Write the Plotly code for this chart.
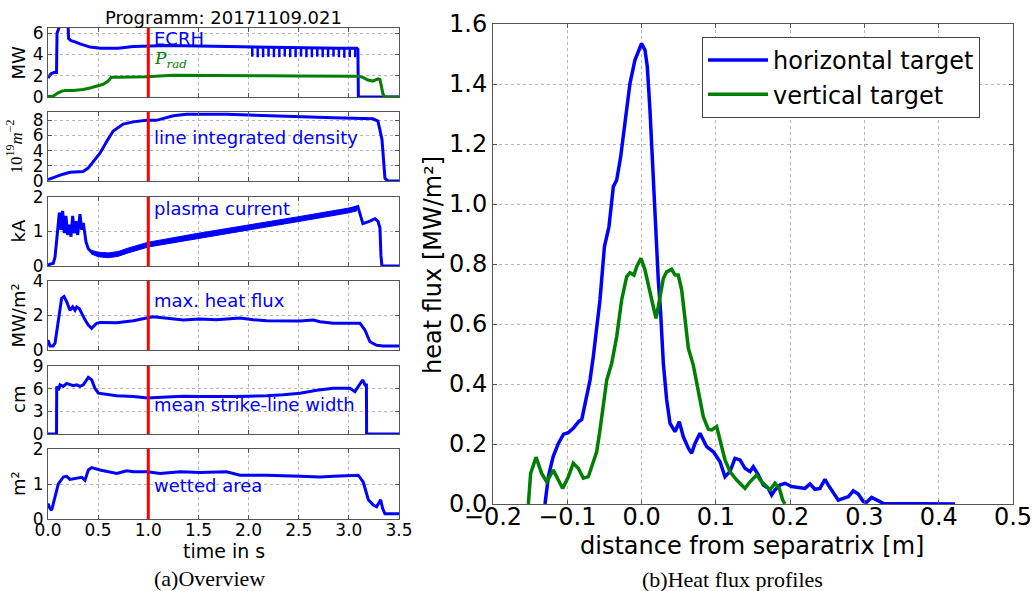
import plotly.graph_objects as go

# ---------------- data: (a) overview ----------------
profile_time = 1.0

ecrh_t = [0.0, 0.03, 0.06, 0.085, 0.09, 0.10, 0.12, 0.20, 0.205, 0.23, 0.27, 0.32, 0.42, 0.52, 0.70, 0.85, 0.98,
          1.2, 1.5, 1.8, 2.0, 2.3, 2.6, 2.9, 3.08, 3.09, 3.095, 3.5]
ecrh_v = [1.8, 2.2, 2.3, 2.3, 6.0, 6.4, 6.8, 6.8, 5.5, 5.3, 5.2, 5.0, 4.7, 4.6, 4.6, 4.75, 4.8,
          4.85, 4.8, 4.75, 4.7, 4.65, 4.65, 4.6, 4.6, 4.5, 0.0, 0.0]
ecrh_dip_t = [2.037, 2.091, 2.145, 2.199, 2.253, 2.307, 2.361, 2.415, 2.469, 2.523,
              2.577, 2.631, 2.685, 2.739, 2.793, 2.847, 2.901, 2.955, 3.009, 3.063]
ecrh_dip_top = [4.7, 4.7, 4.7, 4.7, 4.7, 4.7, 4.65, 4.65, 4.65, 4.65,
                4.65, 4.65, 4.65, 4.6, 4.6, 4.6, 4.6, 4.6, 4.6, 4.6]
ecrh_dip_min = [3.8, 3.75, 3.75, 3.8, 3.75, 3.75, 3.8, 3.75, 3.75, 3.8,
                3.75, 3.75, 3.8, 3.75, 3.75, 3.8, 3.75, 3.7, 3.75, 3.75]

prad_t = [0.0, 0.05, 0.07, 0.10, 0.14, 0.17, 0.25, 0.35, 0.42, 0.485, 0.55, 0.60, 0.63, 0.70, 0.85, 0.98,
          1.25, 1.5, 1.8, 2.18, 2.5, 2.85, 3.09, 3.14, 3.19, 3.24, 3.29, 3.31, 3.34, 3.36, 3.5]
prad_v = [0.05, 0.08, 0.2, 0.4, 0.55, 0.62, 0.62, 0.7, 0.85, 1.05, 1.2, 1.5, 1.85, 1.85, 1.87, 1.9,
          2.05, 2.05, 2.02, 2.0, 1.97, 1.95, 1.95, 1.85, 1.6, 1.5, 1.7, 1.65, 0.3, 0.0, 0.0]

dens_t = [0.0, 0.05, 0.15, 0.22, 0.35, 0.40, 0.45, 0.52, 0.585, 0.65, 0.75, 0.85, 0.98, 1.08, 1.25, 1.38,
          1.78, 2.18, 2.85, 3.24, 3.29, 3.33, 3.36, 3.39, 3.5]
dens_v = [0.2, 0.45, 0.9, 1.15, 1.25, 1.7, 2.6, 3.7, 5.2, 6.6, 7.5, 7.8, 8.0, 8.0, 8.6, 8.8,
          8.8, 8.6, 8.35, 8.2, 7.9, 5.5, 0.35, 0.0, 0.0]

cur_t = [0.0, 0.016, 0.053, 0.07, 0.093, 0.113, 0.13, 0.146, 0.163, 0.179, 0.196, 0.213, 0.229, 0.246,
         0.262, 0.279, 0.296, 0.319, 0.336, 0.352, 0.379, 0.402, 0.435, 0.5, 0.6, 0.7, 0.8, 1.0, 1.5,
         2.0, 2.5, 3.0, 3.04, 3.09, 3.14, 3.21, 3.26, 3.29, 3.31, 3.32, 3.33, 3.5]
cur_v = [0.0, 0.05, 0.08, 0.26, 0.94, 1.55, 1.05, 1.6, 0.95, 1.45, 0.9, 1.2, 0.85, 1.45,
         0.95, 1.3, 0.9, 1.5, 1.05, 1.25, 0.7, 0.5, 0.4, 0.33, 0.31, 0.35, 0.45, 0.62, 0.88,
         1.11, 1.36, 1.6, 1.64, 1.72, 1.23, 1.3, 1.37, 1.3, 1.1, 0.3, 0.0, 0.0]
cur_band_t = [0.43, 0.5, 0.6, 0.7, 0.8, 1.0, 1.5, 2.0, 2.5, 3.0, 3.08]
cur_band_lo = [0.35, 0.27, 0.24, 0.28, 0.38, 0.55, 0.81, 1.04, 1.29, 1.54, 1.6]
cur_band_hi = [0.46, 0.4, 0.38, 0.42, 0.52, 0.69, 0.95, 1.18, 1.43, 1.68, 1.74]

hf_t = [0.0, 0.02, 0.05, 0.07, 0.103, 0.136, 0.16, 0.186, 0.219, 0.246, 0.269, 0.286, 0.312, 0.336,
        0.369, 0.402, 0.435, 0.485, 0.518, 0.685, 0.851, 0.994, 1.05, 1.349, 1.515, 1.681, 1.848,
        1.914, 2.047, 2.18, 2.513, 2.646, 2.712, 2.845, 3.111, 3.16, 3.21, 3.277, 3.343, 3.5]
hf_v = [0.58, 0.23, 0.23, 0.4, 1.7, 3.0, 3.1, 2.8, 2.3, 2.5, 2.3, 2.5, 2.4, 2.1,
        1.75, 1.45, 1.26, 1.55, 1.6, 1.58, 1.7, 1.87, 1.93, 1.74, 1.8, 1.76, 1.84,
        1.85, 1.75, 1.7, 1.68, 1.74, 1.64, 1.55, 1.55, 1.16, 0.48, 0.27, 0.23, 0.23]

sw_t = [0.0, 0.085, 0.087, 0.103, 0.12, 0.153, 0.186, 0.219, 0.252, 0.286, 0.319, 0.352, 0.379,
        0.402, 0.435, 0.468, 0.502, 0.585, 0.685, 0.851, 0.994, 1.183, 1.35, 1.515, 1.7, 1.848,
        2.0, 2.18, 2.346, 2.513, 2.679, 2.845, 3.011, 3.061, 3.094, 3.138, 3.161, 3.175, 3.177, 3.5]
sw_v = [0.0, 0.0, 6.3, 5.8, 6.5, 6.3, 6.7, 6.5, 6.4, 6.5, 6.3, 6.5, 7.1,
        7.5, 7.2, 6.05, 5.4, 5.2, 5.05, 4.95, 4.75, 4.9, 5.0, 4.95, 4.9, 4.95,
        5.0, 5.05, 5.2, 5.4, 5.8, 6.05, 6.05, 5.6, 6.3, 7.15, 6.5, 6.5, 0.0, 0.0]

wa_t = [0.0, 0.02, 0.036, 0.07, 0.103, 0.153, 0.186, 0.219, 0.286, 0.336, 0.369, 0.402, 0.435,
        0.518, 0.685, 0.784, 0.85, 0.994, 1.117, 1.316, 1.515, 1.781, 1.914, 2.18, 2.513, 2.712,
        2.845, 3.094, 3.144, 3.194, 3.244, 3.277, 3.317, 3.337, 3.36, 3.5]
wa_v = [0.44, 0.3, 0.25, 0.63, 1.0, 1.2, 1.22, 1.13, 1.16, 1.19, 1.11, 1.4, 1.47,
        1.4, 1.3, 1.38, 1.35, 1.35, 1.3, 1.35, 1.33, 1.35, 1.25, 1.25, 1.22, 1.2,
        1.22, 1.25, 1.05, 0.55, 0.4, 0.35, 0.55, 0.3, 0.15, 0.15]

# ---------------- data: (b) heat flux profiles ----------------
h_d = [-0.130, -0.1255, -0.119, -0.112, -0.105, -0.0986, -0.092, -0.085, -0.0805, -0.0762, -0.0694,
       -0.065, -0.0604, -0.056, -0.050, -0.0439, -0.038, -0.0335, -0.0281, -0.0223, -0.0156, -0.0089,
       -0.0021, 0.0, 0.0046, 0.0077, 0.0113, 0.015, 0.018, 0.0212, 0.0225, 0.0257, 0.0293, 0.0338,
       0.0383, 0.045, 0.0508, 0.0562, 0.063, 0.0674, 0.0719, 0.0786, 0.0876, 0.0966, 0.1056, 0.1123,
       0.119, 0.1258, 0.1325, 0.1392, 0.146, 0.1504, 0.1571, 0.1639, 0.1706, 0.1751, 0.1796, 0.1863,
       0.193, 0.202, 0.211, 0.22, 0.2267, 0.2334, 0.2401, 0.2469, 0.2514, 0.258, 0.2648, 0.2715,
       0.2783, 0.285, 0.2917, 0.2985, 0.303, 0.3097, 0.3165, 0.3254, 0.4219]
h_q = [0.0, 0.091, 0.158, 0.202, 0.233, 0.238, 0.252, 0.274, 0.282, 0.336, 0.413,
       0.491, 0.591, 0.68, 0.858, 0.924, 1.058, 1.08, 1.158, 1.28, 1.402, 1.48,
       1.524, 1.535, 1.513, 1.458, 1.313, 1.124, 0.958, 0.791, 0.747, 0.636, 0.469, 0.347,
       0.269, 0.241, 0.274, 0.224, 0.186, 0.169, 0.202, 0.236, 0.191, 0.174, 0.141, 0.091,
       0.108, 0.152, 0.147, 0.119, 0.108, 0.124, 0.097, 0.063, 0.052, 0.03, 0.047, 0.063,
       0.069, 0.058, 0.055, 0.052, 0.067, 0.049, 0.052, 0.082, 0.063, 0.036, 0.013, 0.019,
       0.024, 0.044, 0.033, 0.008, 0.006, 0.022, 0.013, 0.002, 0.0]

v_d = [-0.1524, -0.1493, -0.1421, -0.1345, -0.1277, -0.1188, -0.1121, -0.1062, -0.0986, -0.0919,
       -0.0852, -0.0784, -0.0717, -0.0672, -0.0604, -0.056, -0.0515, -0.0469, -0.0402, -0.0335,
       -0.0268, -0.0223, -0.02, -0.0156, -0.0102, -0.0066, -0.0008, 0.0046, 0.0077, 0.0113, 0.0158,
       0.0194, 0.0225, 0.0257, 0.0293, 0.0338, 0.0405, 0.045, 0.0494, 0.054, 0.0562, 0.0584, 0.063,
       0.0696, 0.0764, 0.0831, 0.0898, 0.0944, 0.1011, 0.1056, 0.1123, 0.119, 0.128, 0.1392, 0.146,
       0.155, 0.1617, 0.1684, 0.1729, 0.1796, 0.1854, 0.19, 0.193]
v_q = [0.0, 0.102, 0.156, 0.102, 0.074, 0.113, 0.08, 0.052, 0.091, 0.136,
       0.119, 0.086, 0.091, 0.124, 0.174, 0.247, 0.324, 0.413, 0.469, 0.558,
       0.68, 0.736, 0.758, 0.771, 0.763, 0.791, 0.819, 0.78, 0.747, 0.702, 0.658,
       0.619, 0.658, 0.702, 0.752, 0.774, 0.782, 0.763, 0.763, 0.713, 0.669, 0.602, 0.519,
       0.463, 0.38, 0.291, 0.249, 0.247, 0.258, 0.213, 0.147, 0.108, 0.08, 0.052, 0.074,
       0.097, 0.074, 0.058, 0.047, 0.069, 0.052, 0.013, 0.0]

panel_ranges = [[0, 6.5], [0, 9.1], [0, 2], [0, 4], [0, 9], [0, 2]]
panel_ticks = [[0, 2, 4, 6], [0, 2, 4, 6, 8], [0, 1, 2], [0, 2, 4], [0, 3, 6, 9], [0, 1, 2]]
panel_units = ["MW", "10<sup>19</sup><i>m</i><sup>−2</sup>", "kA", "MW/m²", "cm", "m²"]
panel_labels = ["ECRH", "line integrated density", "plasma current", "max. heat flux",
                "mean strike-line width", "wetted area"]
time_ticks = [0.0, 0.5, 1.0, 1.5, 2.0, 2.5, 3.0, 3.5]
dist_ticks = [-0.2, -0.1, 0.0, 0.1, 0.2, 0.3, 0.4, 0.5]
flux_ticks = [0.0, 0.2, 0.4, 0.6, 0.8, 1.0, 1.2, 1.4, 1.6]

# ---------------- styling ----------------
BLUE = "#0000ff"
GREEN = "#008000"
RED = "#ff0000"
SANS = "DejaVu Sans"
SERIF = "Liberation Serif"
W, H = 1032, 591

left_x = [48 / W, 399 / W]
left_y = [(28, 97), (112, 181), (197, 266), (281, 350), (366, 434), (449, 519)]
right_x = [493 / W, 1013 / W]
right_y = [1 - 504 / H, 1 - 24 / H]


def py(px):
    return 1 - px / H


fig = go.Figure()

axis_common = dict(showline=True, linecolor="#555555", linewidth=1, mirror="ticks",
                   ticks="inside", ticklen=4, tickcolor="#555555", showgrid=True,
                   gridcolor="#b5b5b5", griddash="dot", gridwidth=1, zeroline=False,
                   automargin=False, ticklabeloverflow="allow")

series = [(dens_t, dens_v), (cur_t, cur_v), (hf_t, hf_v), (sw_t, sw_v), (wa_t, wa_v)]

# panel 1: ECRH + Prad
fig.add_trace(go.Scatter(x=ecrh_t, y=ecrh_v, mode="lines", line=dict(color=BLUE, width=3),
                         xaxis="x", yaxis="y", showlegend=False))
dip_x, dip_y = [], []
for t, top, mn in zip(ecrh_dip_t, ecrh_dip_top, ecrh_dip_min):
    dip_x += [t, t, None]
    dip_y += [top, mn, None]
fig.add_trace(go.Scatter(x=dip_x, y=dip_y, mode="lines", line=dict(color=BLUE, width=2.5),
                         xaxis="x", yaxis="y", showlegend=False))
fig.add_trace(go.Scatter(x=prad_t, y=prad_v, mode="lines", line=dict(color=GREEN, width=3),
                         xaxis="x", yaxis="y", showlegend=False))

# plasma current noise band
fig.add_trace(go.Scatter(x=cur_band_t + cur_band_t[::-1], y=cur_band_hi + cur_band_lo[::-1],
                         fill="toself", fillcolor=BLUE, mode="lines", line=dict(color=BLUE, width=1),
                         xaxis="x3", yaxis="y3", showlegend=False, hoverinfo="skip"))

for i, (tx, vy) in enumerate(series, start=2):
    fig.add_trace(go.Scatter(x=tx, y=vy, mode="lines", line=dict(color=BLUE, width=3),
                             xaxis=f"x{i}", yaxis=f"y{i}", showlegend=False))

# right panel
fig.add_trace(go.Scatter(x=h_d, y=h_q, mode="lines", name="horizontal target",
                         line=dict(color=BLUE, width=3.5), xaxis="x7", yaxis="y7"))
fig.add_trace(go.Scatter(x=v_d, y=v_q, mode="lines", name="vertical target",
                         line=dict(color=GREEN, width=3.5), xaxis="x7", yaxis="y7"))

layout = dict(width=W, height=H, margin=dict(l=0, r=0, t=0, b=0, autoexpand=False),
              paper_bgcolor="white", plot_bgcolor="white", template="none",
              font=dict(family=SANS, color="black"))

shapes = []
annotations = []
for i in range(6):
    n = "" if i == 0 else str(i + 1)
    top_px, bot_px = left_y[i]
    layout[f"xaxis{n}"] = dict(axis_common, domain=left_x, anchor=f"y{n}", range=[0, 3.5],
                               tickvals=time_ticks, tickformat=".1f", ticklabelstandoff=-4,
                               showticklabels=(i == 5), tickfont=dict(size=17))
    layout[f"yaxis{n}"] = dict(axis_common, domain=[py(bot_px), py(top_px)], anchor=f"x{n}",
                               range=panel_ranges[i], tickvals=panel_ticks[i],
                               ticklabelstandoff=0, tickfont=dict(size=17))
    shapes.append(dict(type="line", xref=f"x{n}", yref=f"y{n} domain", x0=profile_time,
                       x1=profile_time, y0=0, y1=1, line=dict(color=RED, width=3), layer="above"))
    unit_font = dict(size=17, family=SERIF) if i == 1 else dict(size=18)
    annotations.append(dict(text=panel_units[i], xref="paper", yref="paper",
                            x=(14 if i == 1 else 18) / W, y=py((top_px + bot_px) / 2),
                            textangle=-90, showarrow=False, font=unit_font,
                            xanchor="center", yanchor="middle"))

label_y = [38, 137, 208, 300, 405, 485]
for txt, ypx in zip(panel_labels, label_y):
    annotations.append(dict(text=txt, xref="paper", yref="paper", x=152 / W, y=py(ypx),
                            xanchor="left", yanchor="middle", showarrow=False,
                            font=dict(size=18, color=BLUE)))
annotations.append(dict(text="<i>P</i><sub><i>rad</i></sub>", xref="paper", yref="paper",
                        x=152 / W, y=py(60), xanchor="left", yanchor="middle", showarrow=False,
                        font=dict(size=17, color=GREEN, family="DejaVu Serif")))

layout["xaxis7"] = dict(axis_common, domain=right_x, anchor="y7", range=[-0.2, 0.5],
                        tickvals=dist_ticks, tickformat=".1f", ticklabelstandoff=-9,
                        tickfont=dict(size=24))
layout["yaxis7"] = dict(axis_common, domain=right_y, anchor="x7", range=[0, 1.6],
                        tickvals=flux_ticks, tickformat=".1f", ticklabelstandoff=0,
                        tickfont=dict(size=24))

annotations += [
    dict(text="Programm: 20171109.021", x=223.5 / W, y=py(18), font=dict(size=18)),
    dict(text="time in s", x=223.5 / W, y=py(551), font=dict(size=19)),
    dict(text="(a)Overview", x=209 / W, y=py(578), font=dict(size=22, family=SERIF)),
    dict(text="heat flux [MW/m²]", x=433 / W, y=py(265), textangle=-90, font=dict(size=24)),
    dict(text="distance from separatrix [m]", x=752 / W, y=py(546), font=dict(size=24)),
    dict(text="(b)Heat flux profiles", x=732 / W, y=py(579), font=dict(size=22, family=SERIF)),
]
for a in annotations[-6:]:
    a.update(xref="paper", yref="paper", showarrow=False, xanchor="center", yanchor="middle")

layout["shapes"] = shapes
layout["annotations"] = annotations
layout["legend"] = dict(x=702 / W, y=py(37), xanchor="left", yanchor="top",
                        bgcolor="white", bordercolor="#444444", borderwidth=1,
                        font=dict(size=24), itemwidth=60, tracegroupgap=4)

fig.update_layout(**layout)
fig.write_html("out.html", config={"displayModeBar": False},
               post_script="document.body.style.margin='0px';")
